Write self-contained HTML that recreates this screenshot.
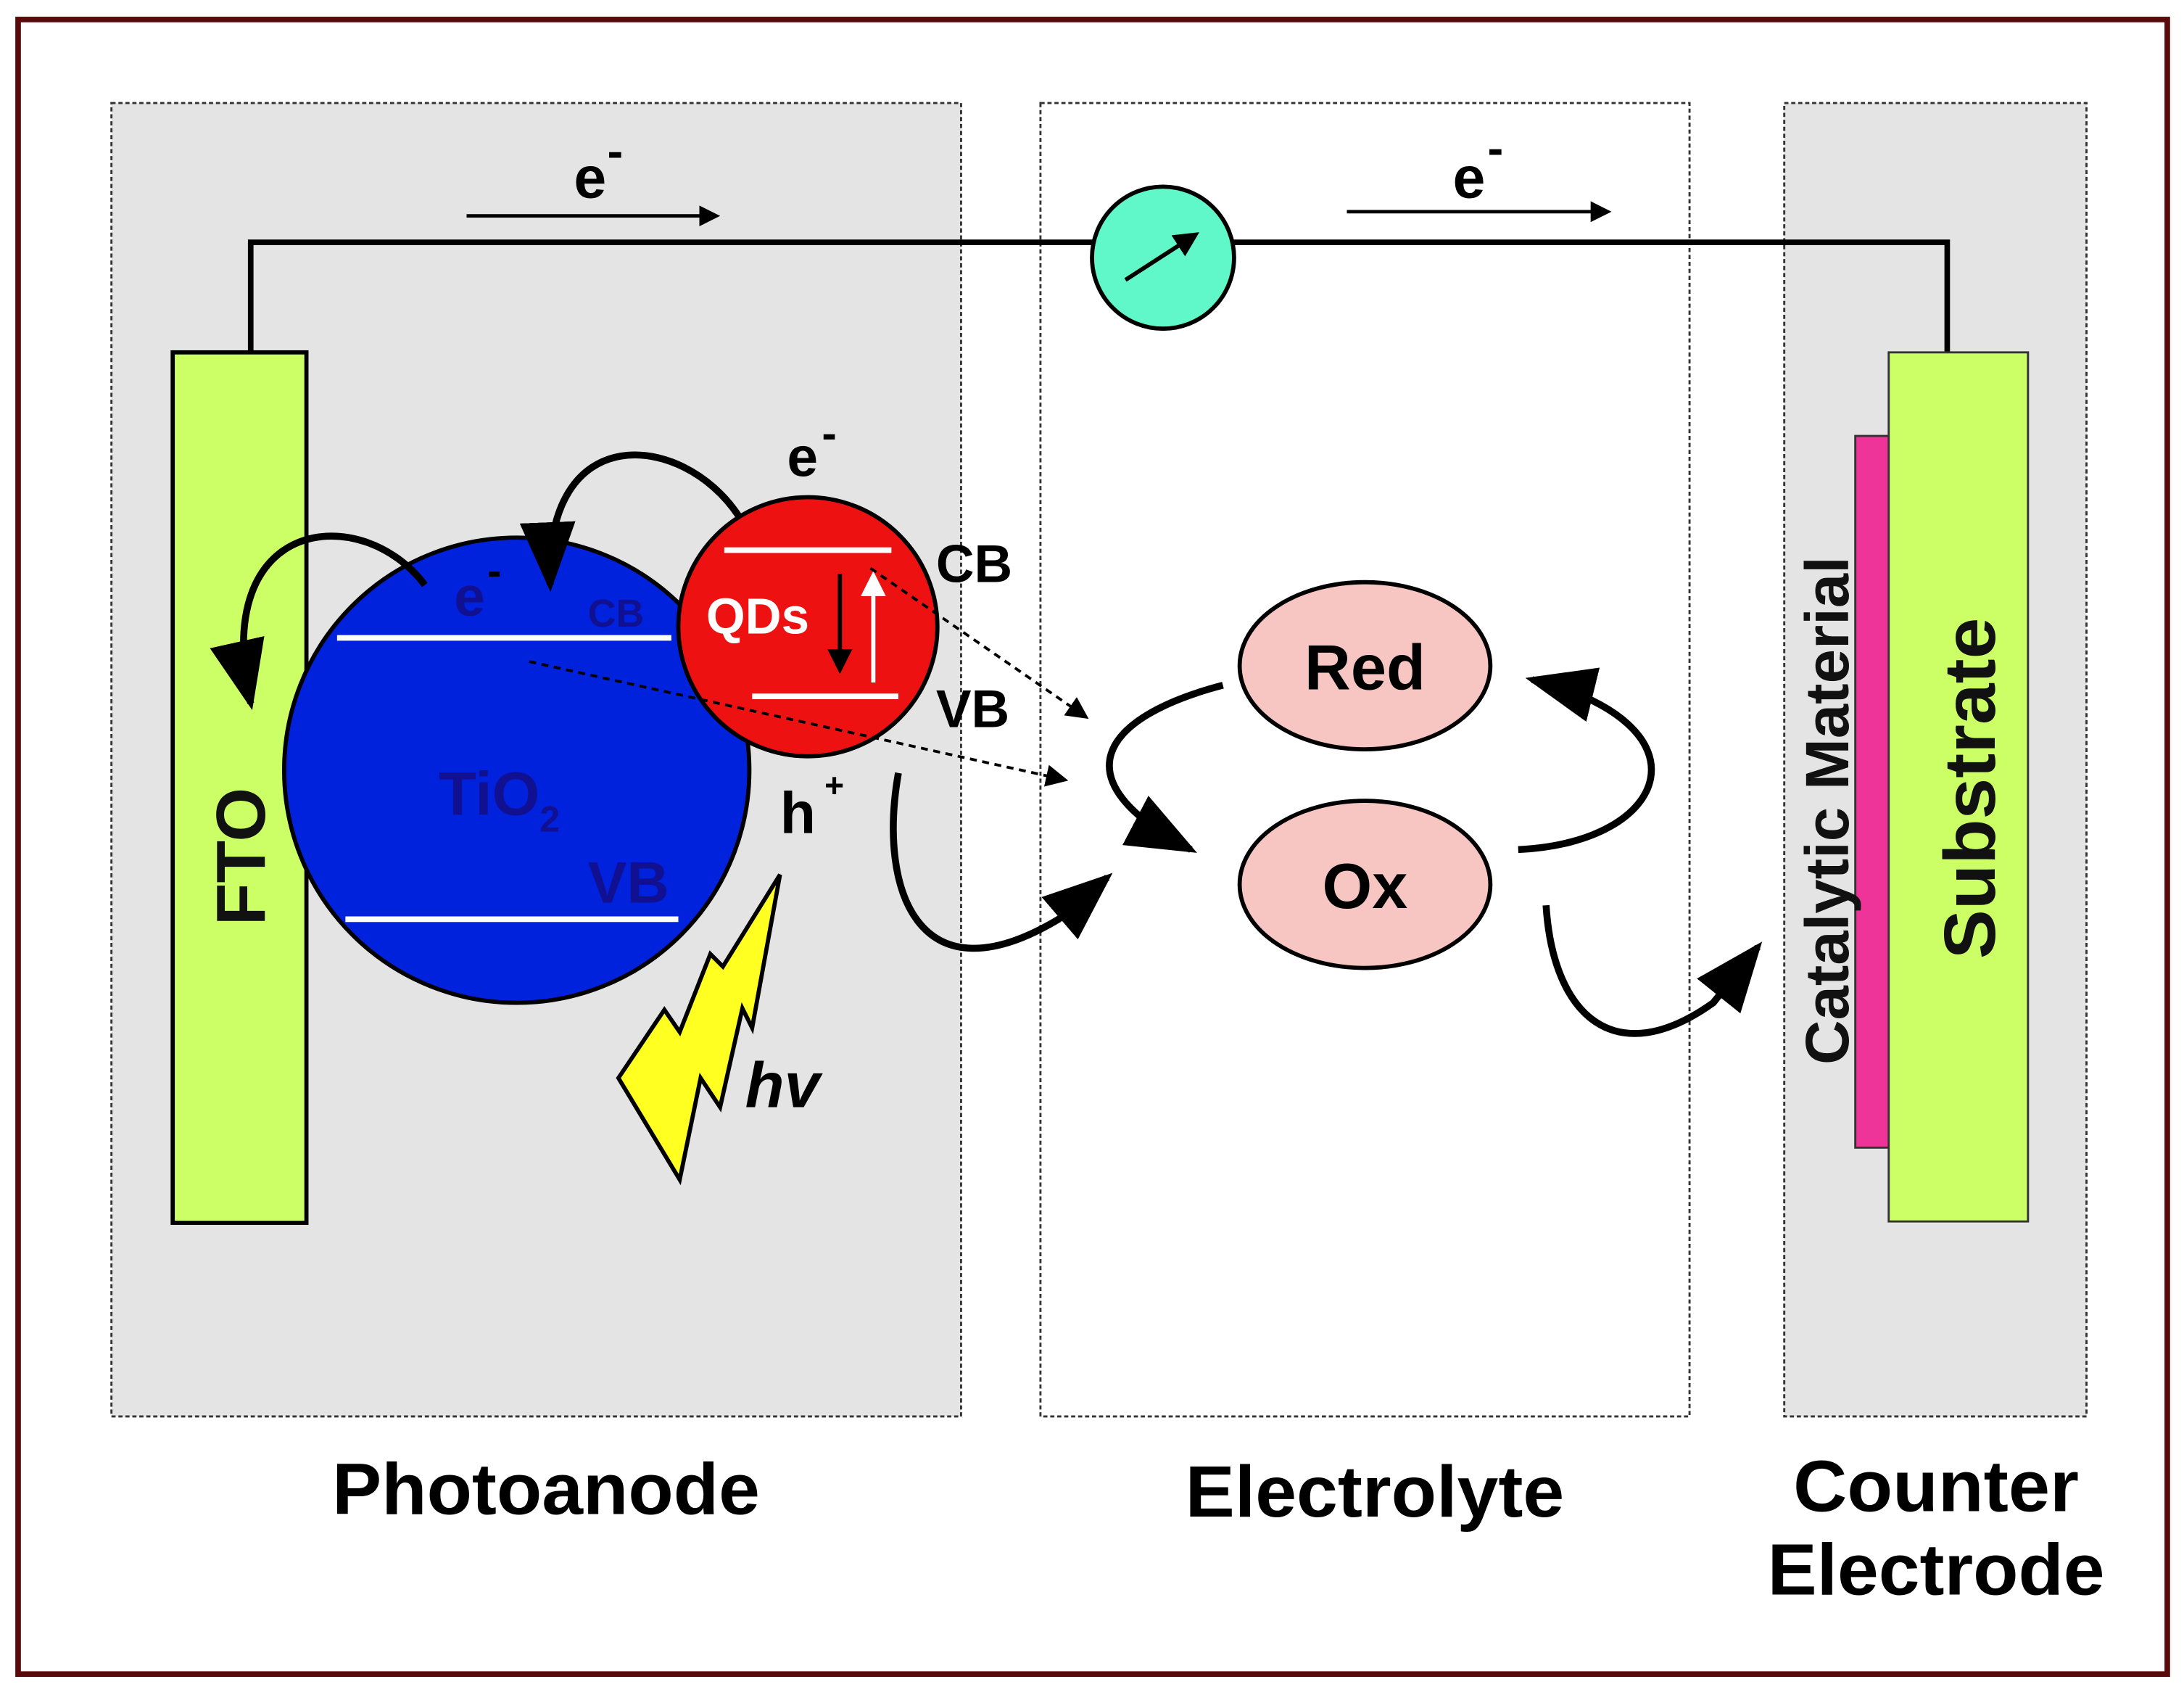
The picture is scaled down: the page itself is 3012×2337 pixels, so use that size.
<!DOCTYPE html>
<html><head><meta charset="utf-8"><style>
html,body{margin:0;padding:0;background:#fff}
svg{display:block}
text{font-family:"Liberation Sans",Arial,sans-serif;font-weight:bold}
</style></head><body>
<svg width="3012" height="2337" viewBox="0 0 1568 1217" preserveAspectRatio="none" xmlns="http://www.w3.org/2000/svg">
<defs>
<marker id="ah" markerWidth="6" markerHeight="6" refX="4" refY="3" orient="auto" markerUnits="strokeWidth"><path d="M0,0 L6,3 L0,6 z" fill="#000"/></marker>
<marker id="as" markerWidth="10" markerHeight="8" refX="9" refY="4" orient="auto" markerUnits="strokeWidth"><path d="M0,0 L10,4 L0,8 z" fill="#000"/></marker>
<marker id="ad" markerWidth="8" markerHeight="8" refX="7" refY="4" orient="auto" markerUnits="strokeWidth"><path d="M0,0 L8,4 L0,8 z" fill="#000"/></marker>
</defs>
<rect x="0" y="0" width="1568" height="1217" fill="#fff"/>
<rect x="13" y="14" width="1543" height="1188" fill="#fff" stroke="#5a0a0a" stroke-width="4"/>
<rect x="80" y="74" width="610" height="943" fill="#e4e4e4" stroke="#333" stroke-width="1.5" stroke-dasharray="3,2"/>
<rect x="747" y="74" width="466" height="943" fill="#fff" stroke="#333" stroke-width="1.5" stroke-dasharray="3,2"/>
<rect x="1281" y="74" width="217" height="943" fill="#e4e4e4" stroke="#333" stroke-width="1.5" stroke-dasharray="3,2"/>
<polyline points="180,253 180,174 1398,174 1398,253" fill="none" stroke="#000" stroke-width="4"/>
<circle cx="835" cy="185" r="51" fill="#60f8c8" stroke="#000" stroke-width="3"/>
<line x1="808" y1="201" x2="856" y2="170" stroke="#000" stroke-width="3" marker-end="url(#ah)"/>
<line x1="335" y1="155" x2="512" y2="155" stroke="#000" stroke-width="2.5" marker-end="url(#ah)"/>
<text x="412" y="142" font-size="42">e</text><text x="436" y="120" font-size="34">-</text>
<line x1="967" y1="152" x2="1152" y2="152" stroke="#000" stroke-width="2.5" marker-end="url(#ah)"/>
<text x="1043" y="142" font-size="42">e</text><text x="1068" y="118" font-size="34">-</text>
<rect x="124" y="253" width="96" height="625" fill="#ccff66" stroke="#000" stroke-width="3"/>
<text transform="translate(190,615) rotate(-90)" font-size="50" text-anchor="middle" fill="#111">FTO</text>
<circle cx="371" cy="553" r="167" fill="#0022dd" stroke="#000" stroke-width="3"/>
<line x1="242" y1="458" x2="482" y2="458" stroke="#fff" stroke-width="4"/>
<line x1="248" y1="660" x2="487" y2="660" stroke="#fff" stroke-width="4"/>
<text x="315" y="585" font-size="44" fill="#101090">TiO<tspan font-size="26" dy="12">2</tspan></text>
<text x="422" y="648" font-size="42" fill="#101090">VB</text>
<text x="422" y="450" font-size="28" fill="#101090">CB</text>
<text x="326" y="442" font-size="40" fill="#101090">e</text><text x="350" y="420" font-size="30" fill="#000">-</text>
<circle cx="580" cy="450" r="93" fill="#ee1111" stroke="#000" stroke-width="3"/>
<line x1="520" y1="395" x2="640" y2="395" stroke="#fff" stroke-width="4"/>
<line x1="540" y1="500" x2="645" y2="500" stroke="#fff" stroke-width="4"/>
<text x="507" y="455" font-size="36" fill="#fff">QDs</text>
<line x1="603" y1="412" x2="603" y2="478" stroke="#000" stroke-width="3" marker-end="url(#ah)"/>
<line x1="627" y1="490" x2="627" y2="425" stroke="#fff" stroke-width="3"/>
<polygon points="618,428 627,410 636,428" fill="#fff"/>
<text x="565" y="342" font-size="40">e</text><text x="590" y="322" font-size="32">-</text>
<text x="672" y="418" font-size="38">CB</text>
<text x="672" y="522" font-size="38">VB</text>
<text x="560" y="598" font-size="42">h</text><text x="592" y="572" font-size="24">+</text>
<path d="M530,370 C490,310 390,300 395,420" fill="none" stroke="#000" stroke-width="5" marker-end="url(#as)"/>
<path d="M305,420 C260,360 150,370 180,505" fill="none" stroke="#000" stroke-width="5" marker-end="url(#as)"/>
<line x1="625" y1="408" x2="780" y2="515" stroke="#000" stroke-width="2" stroke-dasharray="5,4" marker-end="url(#ad)"/>
<line x1="380" y1="475" x2="765" y2="560" stroke="#000" stroke-width="2" stroke-dasharray="5,4" marker-end="url(#ad)"/>
<polygon points="560,628 519,694 510,685 488,741 477,725 444,774 488,847 503,774 517,795 533,724 540,738" fill="#ffff22" stroke="#000" stroke-width="3" stroke-linejoin="miter"/>
<text x="535" y="795" font-size="46" font-style="italic">hv</text>
<path d="M645,555 C630,640 660,720 760,660 L795,630" fill="none" stroke="#000" stroke-width="5" marker-end="url(#as)"/>
<ellipse cx="980" cy="478" rx="90" ry="60" fill="#f7c6c2" stroke="#000" stroke-width="3"/>
<ellipse cx="980" cy="635" rx="90" ry="60" fill="#f7c6c2" stroke="#000" stroke-width="3"/>
<text x="980" y="495" font-size="46" text-anchor="middle">Red</text>
<text x="980" y="652" font-size="46" text-anchor="middle">Ox</text>
<path d="M878,492 C790,515 760,560 855,610" fill="none" stroke="#000" stroke-width="5" marker-end="url(#as)"/>
<path d="M1090,610 C1200,605 1230,520 1100,488" fill="none" stroke="#000" stroke-width="5" marker-end="url(#as)"/>
<path d="M1110,650 C1115,730 1160,770 1230,720 L1262,680" fill="none" stroke="#000" stroke-width="5" marker-end="url(#as)"/>
<rect x="1332" y="313" width="25" height="511" fill="#ee3399" stroke="#333" stroke-width="1.5"/>
<rect x="1356" y="253" width="100" height="624" fill="#ccff66" stroke="#333" stroke-width="1.5"/>
<text transform="translate(1327,582) rotate(-90)" font-size="44" text-anchor="middle" fill="#111" textLength="365" lengthAdjust="spacingAndGlyphs">Catalytic Material</text>
<text transform="translate(1432,566) rotate(-90)" font-size="52" text-anchor="middle" fill="#111" textLength="245" lengthAdjust="spacingAndGlyphs">Substrate</text>
<text x="392" y="1087" font-size="52" text-anchor="middle" textLength="307" lengthAdjust="spacingAndGlyphs">Photoanode</text>
<text x="987" y="1089" font-size="52" text-anchor="middle" textLength="272" lengthAdjust="spacingAndGlyphs">Electrolyte</text>
<text x="1390" y="1085" font-size="52" text-anchor="middle" textLength="205" lengthAdjust="spacingAndGlyphs">Counter</text>
<text x="1390" y="1145" font-size="52" text-anchor="middle" textLength="242" lengthAdjust="spacingAndGlyphs">Electrode</text>
</svg>
</body></html>
